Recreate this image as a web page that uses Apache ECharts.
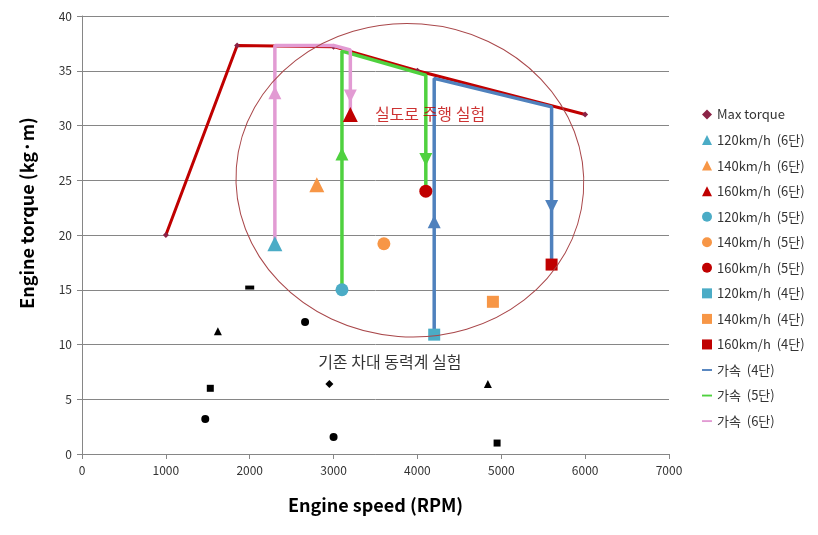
<!DOCTYPE html>
<html><head><meta charset="utf-8">
<script src="https://cdn.jsdelivr.net/npm/echarts@6/dist/echarts.min.js"></script>
<style>html,body{margin:0;padding:0;background:#fff}#c{width:818px;height:535px}</style>
</head><body><div id="c"></div>
<script>
// ---- data ----
const xTicks = [0, 1000, 2000, 3000, 4000, 5000, 6000, 7000];
const yTicks = [0, 5, 10, 15, 20, 25, 30, 35, 40];
const maxTorque = [[1000, 20], [1850, 37.3], [3000, 37.2], [4000, 35], [6000, 31]];
const t120_6 = [[2300, 19.2]];
const t140_6 = [[2800, 24.6]];
const t160_6 = [[3200, 31]];
const t120_5 = [[3100, 15.0]];
const t140_5 = [[3600, 19.2]];
const t160_5 = [[4100, 24.0]];
const t120_4 = [[4200, 10.9]];
const t140_4 = [[4900, 13.9]];
const t160_4 = [[5600, 17.3]];
const accel4 = [[4200, 10.9], [4200, 34.3], [5600, 31.7], [5600, 17.3]];
const accel5 = [[3100, 15.0], [3100, 36.8], [4100, 34.6], [4100, 24.0]];
const accel6 = [[2300, 19.2], [2300, 37.3], [3000, 37.3], [3200, 36.9], [3200, 31]];
const arrowsUp = [[2300, 33.0, 'pink'], [3100, 27.4, 'green'], [4200, 21.2, 'blue']];
const arrowsDown = [[3200, 32.7, 'pink'], [4100, 26.9, 'green'], [5600, 22.6, 'blue']];
const dynoCircle = [[1470, 3.2], [2660, 12.05], [3000, 1.55]];
const dynoSquare = [[1530, 6.0], [4950, 1.0]];
const dynoTriangle = [[1620, 11.2], [4840, 6.4]];
const dynoDiamond = [[2950, 6.4]];
const dynoBar = [[2000, 15.2]];
const ellipse = [[3910, 25.0, 2075, 14.3]];
const notes = [[4150, 31.1, '실도로 주행 실험'], [3670, 8.4, '기존 차대 동력계 실험']];

const C = {lb:'#4BACC6', or:'#F79646', rd:'#C00000', blue:'#4F81BD', green:'#4FD13F', pink:'#E29BD3'};
const arrowColor = {pink:C.pink, green:C.green, blue:C.blue};

const font = '"Noto Sans CJK KR", "Noto Sans", sans-serif';
const chart = echarts.init(document.getElementById('c'));

function pt(name, data, symbol, color, size) {
  return {name, type:'scatter', data, symbol, symbolSize:size, itemStyle:{color, opacity:1}, z:5};
}
function acc(name, data, color) {
  return {name, type:'line', data, showSymbol:false, symbol:'none', lineStyle:{color, width:3.5}, itemStyle:{color}, z:3, animation:false};
}
function dyno(data, symbol, size) {
  return {type:'scatter', data, symbol, symbolSize:size, itemStyle:{color:'#000', opacity:1}, z:4, silent:true};
}
const lineIcon = 'path://M0,0 L16,0 L16,3 L0,3 Z';

chart.setOption({
  animation:false,
  backgroundColor:'#fff',
  textStyle:{fontFamily:font},
  grid:{left:82, right:149, top:16, bottom:81},
  legend:{
    orient:'vertical', left:697, top:103, itemGap:12.55, itemWidth:10, itemHeight:10,
    textStyle:{fontSize:13, color:'#333', fontFamily:font},
    data:[
      {name:'Max torque', icon:'diamond'},
      {name:'120km/h  (6단)', icon:'triangle'},
      {name:'140km/h  (6단)', icon:'triangle'},
      {name:'160km/h  (6단)', icon:'triangle'},
      {name:'120km/h  (5단)', icon:'circle'},
      {name:'140km/h  (5단)', icon:'circle'},
      {name:'160km/h  (5단)', icon:'circle'},
      {name:'120km/h  (4단)', icon:'rect'},
      {name:'140km/h  (4단)', icon:'rect'},
      {name:'160km/h  (4단)', icon:'rect'},
      {name:'가속  (4단)', icon:lineIcon},
      {name:'가속  (5단)', icon:lineIcon},
      {name:'가속  (6단)', icon:lineIcon}
    ]
  },
  xAxis:{
    type:'value', min:xTicks[0], max:xTicks[xTicks.length-1], interval:1000,
    name:'Engine speed (RPM)', nameLocation:'middle', nameGap:42,
    nameTextStyle:{fontSize:18, fontWeight:'bold', color:'#000', fontFamily:font},
    axisLine:{show:true, lineStyle:{color:'#868686'}},
    axisTick:{show:true, length:5, lineStyle:{color:'#868686'}},
    axisLabel:{fontSize:12, color:'#333', margin:10, formatter:v=>String(v)},
    splitLine:{show:false}
  },
  yAxis:{
    type:'value', min:yTicks[0], max:yTicks[yTicks.length-1], interval:5,
    name:'Engine torque (kg·m)', nameLocation:'middle', nameGap:46,
    nameTextStyle:{fontSize:18, fontWeight:'bold', color:'#000', fontFamily:font, padding:[0,0,0,44]},
    axisLine:{show:true, lineStyle:{color:'#868686'}},
    axisTick:{show:true, length:5, lineStyle:{color:'#868686'}},
    axisLabel:{fontSize:12, color:'#333', margin:10, formatter:v=>String(v)},
    splitLine:{show:true, lineStyle:{color:'#868686', width:1}}
  },
  series:[
    {name:'Max torque', type:'line', data:maxTorque, symbol:'diamond', symbolSize:6, showSymbol:true,
     lineStyle:{color:C.rd, width:3}, itemStyle:{color:'#8B2346'}, z:2},
    acc('가속  (4단)', accel4, C.blue),
    acc('가속  (5단)', accel5, C.green),
    acc('가속  (6단)', accel6, C.pink),
    pt('120km/h  (6단)', t120_6, 'triangle', C.lb, 15),
    pt('140km/h  (6단)', t140_6, 'triangle', C.or, 15),
    pt('160km/h  (6단)', t160_6, 'triangle', C.rd, 15),
    pt('120km/h  (5단)', t120_5, 'circle', C.lb, 13),
    pt('140km/h  (5단)', t140_5, 'circle', C.or, 13),
    pt('160km/h  (5단)', t160_5, 'circle', C.rd, 13),
    pt('120km/h  (4단)', t120_4, 'rect', C.lb, 12),
    pt('140km/h  (4단)', t140_4, 'rect', C.or, 12),
    pt('160km/h  (4단)', t160_4, 'rect', C.rd, 12),
    {type:'scatter', silent:true, z:4, symbol:'triangle', symbolSize:[13,13],
     data:arrowsUp.map(a=>({value:[a[0],a[1]], itemStyle:{color:arrowColor[a[2]], opacity:1}}))},
    {type:'scatter', silent:true, z:4, symbol:'triangle', symbolSize:[13,13], symbolRotate:180,
     data:arrowsDown.map(a=>({value:[a[0],a[1]], itemStyle:{color:arrowColor[a[2]], opacity:1}}))},
    dyno(dynoCircle, 'circle', 8),
    dyno(dynoSquare, 'rect', 7),
    dyno(dynoTriangle, 'triangle', 8),
    dyno(dynoDiamond, 'diamond', 8),
    dyno(dynoBar, 'rect', [9,4]),
    {type:'custom', silent:true, z:6, data:ellipse,
     renderItem:function(params, api){
       const c = api.coord([api.value(0), api.value(1)]);
       const s = api.size([api.value(2), api.value(3)]);
       return {type:'ellipse', x:c[0], y:c[1], rotation:-0.075,
         shape:{cx:0, cy:0, rx:s[0], ry:s[1]},
         style:{fill:null, stroke:'#A9474A', lineWidth:1}};
     }},
    {type:'scatter', silent:true, z:7, symbolSize:0,
     data:notes.map(n=>({value:[n[0],n[1]], name:n[2],
       label:{show:true, position:'inside', formatter:n[2], fontSize:16, fontFamily:font,
         color: n[2]==='실도로 주행 실험' ? C.rd : '#000'}}))}
  ]
});
</script></body></html>
